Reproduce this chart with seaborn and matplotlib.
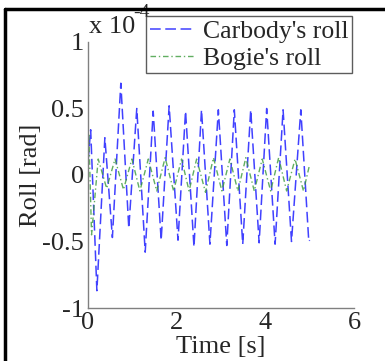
import matplotlib
matplotlib.use("Agg")
import matplotlib.pyplot as plt
from matplotlib.lines import Line2D
import seaborn as sns
import pandas as pd

# Carbody roll extrema (time [s], roll [x1e-4 rad])
carbody_t = [0.0, 0.06, 0.20, 0.38, 0.55, 0.74, 0.92, 1.10, 1.29, 1.47, 1.65, 1.83,
             2.03, 2.20, 2.39, 2.56, 2.75, 2.94, 3.13, 3.30, 3.49, 3.67, 3.86, 4.03,
             4.22, 4.40, 4.59, 4.80, 4.98, 5.0]
carbody_v = [0.10, 0.34, -0.87, 0.28, -0.47, 0.69, -0.40, 0.50, -0.58, 0.48, -0.49, 0.52,
             -0.49, 0.48, -0.54, 0.49, -0.52, 0.49, -0.53, 0.49, -0.52, 0.49, -0.51, 0.50,
             -0.52, 0.49, -0.50, 0.49, -0.50, -0.49]

# Bogie roll extrema
bogie_t = [0.0, 0.02, 0.08, 0.23, 0.42, 0.61, 0.80, 0.99, 1.17, 1.36, 1.55, 1.74, 1.93,
           2.11, 2.28, 2.45, 2.65, 2.83, 3.02, 3.20, 3.38, 3.56, 3.75, 3.93, 4.12, 4.30,
           4.48, 4.67, 4.86, 5.0]
bogie_v = [0.20, 0.30, -0.45, 0.12, -0.10, 0.12, -0.11, 0.12, -0.12, 0.12, -0.12, 0.13, -0.12,
           0.12, -0.12, 0.12, -0.13, 0.13, -0.12, 0.12, -0.12, 0.13, -0.12, 0.12, -0.12, 0.13,
           -0.12, 0.12, -0.12, 0.08]

x_ticks = [0, 2, 4, 6]
y_ticks = [-1, -0.5, 0, 0.5, 1]
y_ticklabels = ["-1", "-0.5", "0", "0.5", "1"]

sns.set_style("white")
plt.rcParams["font.family"] = ["Liberation Serif", "DejaVu Serif"]

fig = plt.figure(figsize=(3.85, 3.61), dpi=100)
ax = fig.add_axes([0.2286, 0.1468, 0.6909, 0.7369])

df_c = pd.DataFrame({"t": carbody_t, "v": carbody_v})
df_b = pd.DataFrame({"t": bogie_t, "v": bogie_v})

sns.lineplot(data=df_c, x="t", y="v", ax=ax, color="#1f1fff", lw=1.1,
             estimator=None, sort=False, label="Carbody's roll", alpha=0.85)
ax.lines[-1].set_dashes([7, 3, 7, 3])
sns.lineplot(data=df_b, x="t", y="v", ax=ax, color="#3a9a3a", lw=1.0,
             estimator=None, sort=False, label="Bogie's roll", alpha=0.8)
ax.lines[-1].set_dashes([4, 2, 1, 2])

ax.set_xlim(0, 6)
ax.set_ylim(-1, 1)
ax.set_xticks(x_ticks)
ax.set_xticklabels([str(v) for v in x_ticks])
ax.set_yticks(y_ticks)
ax.set_yticklabels(y_ticklabels)
ax.tick_params(direction="in", length=3, width=0.8, color="#808080",
               labelsize=19, pad=3)
for side in ["top", "right"]:
    ax.spines[side].set_visible(False)
for side in ["left", "bottom"]:
    ax.spines[side].set_color("#808080")
    ax.spines[side].set_linewidth(1.0)

ax.set_xlabel("Time [s]", fontsize=19, labelpad=1)
ax.set_ylabel("Roll [rad]", fontsize=19, labelpad=0)

ax.text(0.005, 1.015, "x 10", transform=ax.transAxes, fontsize=19,
        ha="left", va="bottom")
ax.text(0.17, 1.08, "-4", transform=ax.transAxes, fontsize=14,
        ha="left", va="bottom")

leg = ax.legend(loc="upper right", bbox_to_anchor=(0.914, 0.956),
                bbox_transform=fig.transFigure, fontsize=18.5, frameon=True,
                fancybox=False, handlelength=1.75, handletextpad=0.3,
                labelspacing=0.15, borderpad=0.15, borderaxespad=0)
leg.get_frame().set_edgecolor("#333333")
leg.get_frame().set_linewidth(1.0)
leg.set_zorder(5)

# outer frame (left and top)
fig.add_artist(Line2D([4.5 / 385, 4.5 / 385], [0, 1 - 9 / 361],
                      transform=fig.transFigure, color="black", lw=2.5))
fig.add_artist(Line2D([4.5 / 385, 1], [1 - 9 / 361, 1 - 9 / 361],
                      transform=fig.transFigure, color="black", lw=2.5))

fig.savefig("out.png", dpi=100)
